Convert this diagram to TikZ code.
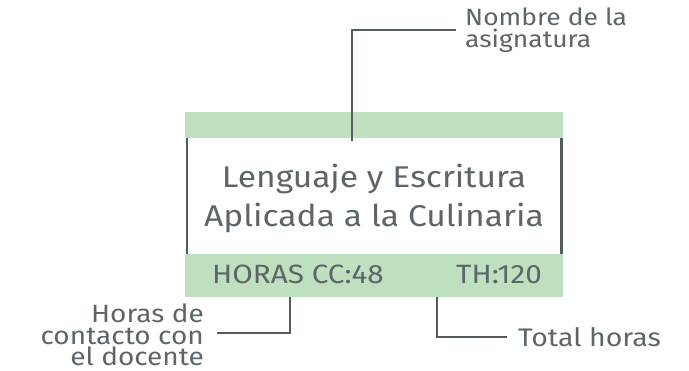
\documentclass[tikz,border=0pt]{standalone}
\usepackage{fontspec}
\setmainfont[FakeStretch=1.12]{Fira Sans}
\usetikzlibrary{positioning}
\definecolor{barverde}{HTML}{BFE0BF}
\definecolor{gristexto}{HTML}{5C666A}
\definecolor{grislinea}{HTML}{535C60}

\begin{document}
\begin{tikzpicture}[x=1pt,y=-1pt,
		bar/.style={fill=barverde,draw=none,minimum width=378pt,inner sep=0pt,anchor=north west},
		lead/.style={grislinea,line width=2.2pt},
		txt/.style={gristexto,inner sep=0pt}]
		\useasboundingbox (0,0) rectangle (689,371);
		
		\node[bar,minimum height=26pt] (topbar) at (185,112) {};
		\node[bar,minimum height=43pt] (botbar) at (185,254) {};
		\draw[lead] ([xshift=2pt]topbar.south west) -- ([xshift=2pt]botbar.north west);
		\draw[lead] ([xshift=-2pt]topbar.south east) -- ([xshift=-2pt]botbar.north east);
		
		\node[txt,align=center,font=\fontsize{30}{39}\selectfont] (titulo) at (374,198) {Lenguaje y Escritura\\Aplicada a la Culinaria};
		\node[txt,anchor=base west,font=\fontsize{26.5}{28}\selectfont] (hcc) at (212,284) {HORAS CC:48};
		\node[txt,anchor=base east,font=\fontsize{26.5}{28}\selectfont] (th) at (542,284) {TH:120};
		
		\node[txt,align=left,anchor=west,font=\fontsize{23.6}{21.5}\selectfont] (nombre) at (465,30) {Nombre de la\\asignatura};
		\node[txt,align=right,anchor=east,font=\fontsize{25}{21.5}\selectfont] (contacto) at (204,335) {Horas de\\contacto con\\el docente};
		\node[txt,anchor=west,font=\fontsize{25.4}{28}\selectfont] (total) at (518,337) {Total horas};
		
		\coordinate (pnombre) at (352,141);
		\coordinate (pcc) at (290,297);
		\coordinate (pth) at (437,297);
		\draw[lead] ([xshift=-9pt]nombre.west) -| (pnombre);
		\draw[lead] ([xshift=13pt,yshift=2pt]contacto.east) -| (pcc);
		\draw[lead] (pth) |- ([xshift=-11pt]total.west);
	\end{tikzpicture}
\end{document}
